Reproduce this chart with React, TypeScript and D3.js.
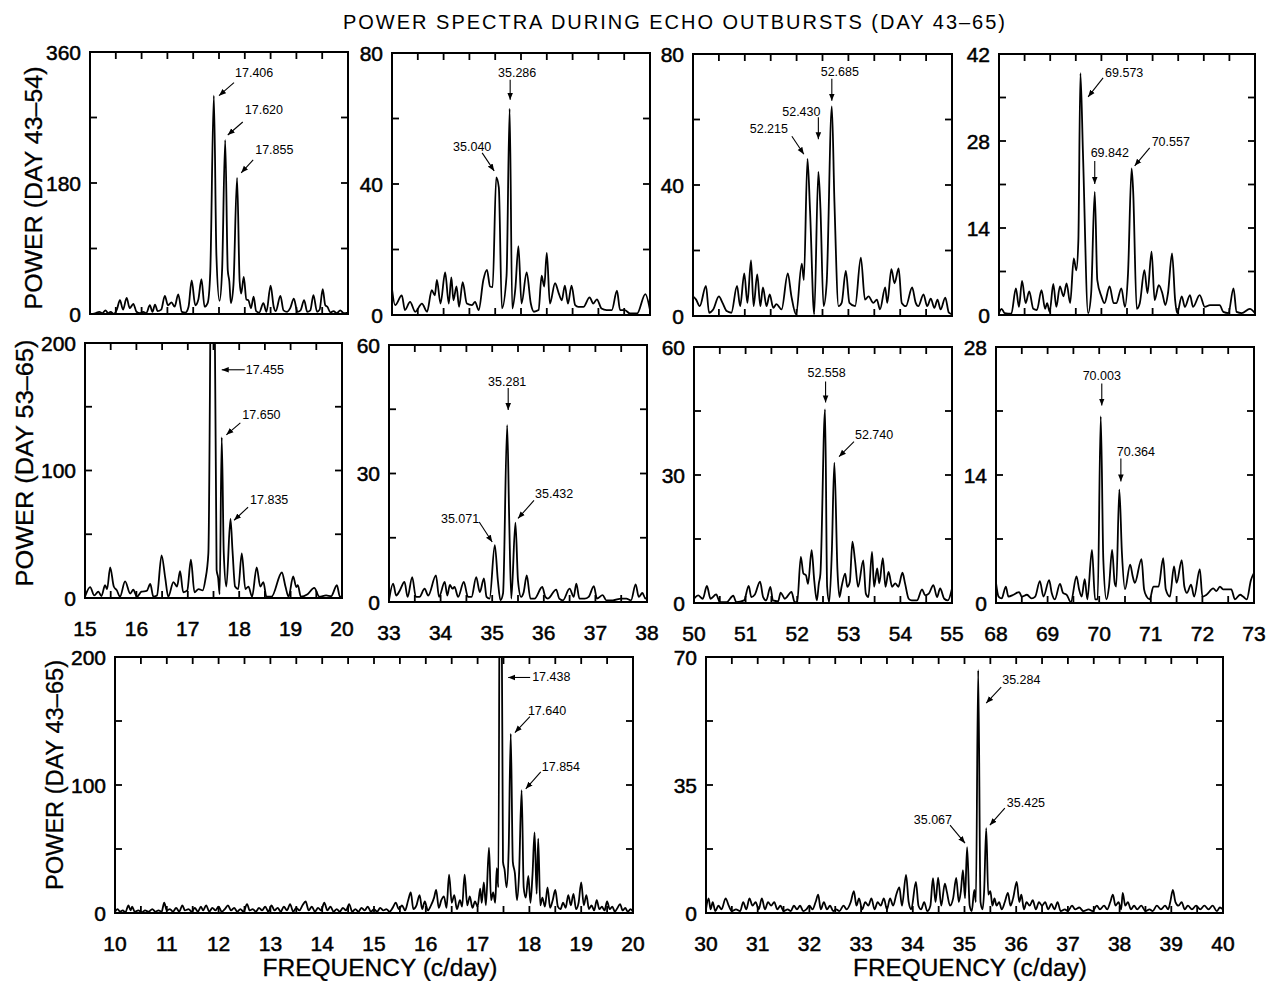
import React from 'react'
import * as d3 from 'd3'

type Pt = [number, number]

// power spectra as [frequency (c/day), power] vertices
const specA17: Pt[] = [
  [15.0, 0], [15.1, 1], [15.18, 3], [15.24, 1], [15.3, 5], [15.35, 1], [15.4, 3], [15.46, 0], [15.52, 6], [15.58, 19],
  [15.64, 6], [15.71, 22], [15.77, 8], [15.84, 14], [15.9, 3], [15.97, 1], [16.03, 3], [16.09, 1], [16.16, 12], [16.21, 3],
  [16.26, 13], [16.31, 4], [16.38, 6], [16.45, 25], [16.51, 12], [16.58, 16], [16.64, 10], [16.71, 27], [16.78, 3], [16.85, 2],
  [16.91, 10], [16.97, 46], [17.04, 12], [17.1, 20], [17.16, 48], [17.22, 10], [17.28, 15], [17.33, 56], [17.4, 300], [17.45, 80],
  [17.51, 18], [17.56, 60], [17.62, 239], [17.67, 60], [17.7, 45], [17.73, 15], [17.78, 40], [17.85, 187], [17.9, 45], [17.93, 28],
  [17.98, 51], [18.03, 20], [18.07, 19], [18.12, 8], [18.17, 24], [18.22, 4], [18.28, 2], [18.36, 15], [18.42, 3], [18.5, 39],
  [18.56, 10], [18.6, 4], [18.69, 25], [18.75, 5], [18.82, 3], [18.88, 8], [18.95, 21], [19.02, 3], [19.08, 5], [19.15, 19],
  [19.21, 3], [19.27, 5], [19.33, 26], [19.4, 3], [19.45, 6], [19.51, 34], [19.56, 12], [19.6, 10], [19.66, 2], [19.72, 4],
  [19.78, 1], [19.85, 5], [19.92, 1], [20.0, 2],
]

const specA35: Pt[] = [
  [33.0, 8], [33.06, 3], [33.19, 6], [33.25, 1.5], [33.35, 4], [33.45, 1], [33.58, 3.5], [33.68, 1], [33.77, 7.6], [33.83, 6],
  [33.87, 10.7], [33.94, 3.5], [34.03, 13], [34.1, 3.5], [34.15, 11.5], [34.19, 4.5], [34.25, 8.7], [34.3, 2.5], [34.37, 10], [34.45, 3.5],
  [34.55, 3], [34.61, 4], [34.68, 1.5], [34.77, 10.7], [34.84, 13.8], [34.9, 8.7], [34.95, 8.5], [35.02, 42], [35.07, 39], [35.13, 2],
  [35.22, 12], [35.28, 63], [35.33, 2], [35.39, 8], [35.45, 21], [35.51, 3.5], [35.61, 13], [35.69, 3.5], [35.75, 1], [35.84, 1.5],
  [35.9, 12], [35.95, 8.7], [36.0, 19], [36.06, 3.5], [36.16, 9.7], [36.23, 6.7], [36.29, 4.5], [36.35, 9], [36.41, 3.5], [36.48, 9],
  [36.55, 3], [36.61, 2.5], [36.71, 2.5], [36.83, 5.4], [36.9, 3.5], [36.97, 4.8], [37.06, 2], [37.16, 1.5], [37.26, 1.5], [37.36, 7.4],
  [37.42, 1.5], [37.51, 1.5], [37.61, 0.5], [37.75, 0.5], [37.91, 6.4], [38.0, 1.5],
]

const specA52: Pt[] = [
  [50.0, 6], [50.06, 5], [50.13, 3], [50.25, 9.2], [50.31, 1], [50.39, 2], [50.5, 6], [50.57, 4], [50.65, 1.5], [50.74, 1],
  [50.85, 9.2], [50.91, 3], [50.99, 13], [51.05, 4], [51.12, 17], [51.17, 3], [51.24, 12.7], [51.3, 3], [51.35, 8.7], [51.42, 3],
  [51.48, 6.6], [51.55, 2.5], [51.61, 3.6], [51.71, 2], [51.83, 13], [51.9, 6], [51.99, 0.5], [52.1, 16], [52.14, 11], [52.21, 48],
  [52.26, 32], [52.34, 0.5], [52.42, 44], [52.46, 33], [52.52, 3], [52.58, 10], [52.68, 64], [52.73, 35], [52.81, 3], [52.87, 4],
  [52.95, 13.8], [53.02, 4], [53.13, 3], [53.24, 17.8], [53.32, 5], [53.39, 6], [53.48, 4], [53.55, 5], [53.61, 2], [53.71, 8.7],
  [53.75, 4], [53.83, 14.3], [53.89, 10], [53.97, 14.5], [54.03, 4], [54.11, 3], [54.23, 8.7], [54.3, 4], [54.35, 3], [54.45, 6.6],
  [54.52, 3], [54.59, 5.3], [54.66, 2.5], [54.72, 5], [54.78, 2], [54.87, 5.6], [54.94, 1], [55.0, 0.5],
]

const specA70: Pt[] = [
  [68.0, 0.3], [68.05, 1], [68.11, 0.3], [68.24, 0.2], [68.33, 4.3], [68.39, 1.3], [68.45, 5.5], [68.52, 1.9], [68.59, 3.8], [68.67, 1],
  [68.74, 0.8], [68.83, 4], [68.9, 1], [68.94, 1.9], [68.99, 0.5], [69.06, 5], [69.12, 1.3], [69.19, 4.6], [69.26, 3], [69.32, 5.1],
  [69.39, 1.9], [69.46, 9.1], [69.51, 7.2], [69.55, 12], [69.59, 38.9], [69.64, 26], [69.74, 0.3], [69.8, 3.5], [69.87, 19.8], [69.92, 5.6],
  [70.0, 3], [70.06, 1.9], [70.16, 4.6], [70.24, 1.9], [70.29, 1.9], [70.39, 4.3], [70.46, 1.3], [70.52, 6.7], [70.59, 23.6], [70.62, 20],
  [70.69, 1], [70.75, 1.9], [70.84, 7.2], [70.9, 3.5], [70.98, 10.2], [71.04, 2.4], [71.12, 4.8], [71.19, 3.5], [71.25, 1.6], [71.3, 3.5],
  [71.38, 9.9], [71.44, 2.4], [71.48, 0.3], [71.57, 3], [71.63, 1.3], [71.73, 3.2], [71.79, 1.3], [71.92, 3.2], [72.02, 1.3], [72.12, 1.6],
  [72.22, 1.6], [72.31, 1.6], [72.38, 0.5], [72.48, 0.3], [72.58, 4.3], [72.64, 0.5], [72.74, 0.3], [72.9, 1], [73.0, 0.3],
]

const specB17: Pt[] = [
  [15.0, 1], [15.1, 8.6], [15.18, 2], [15.26, 5], [15.32, 1.5], [15.39, 10], [15.43, 7], [15.49, 24], [15.56, 9], [15.62, 6],
  [15.68, 1], [15.78, 13], [15.88, 3.5], [15.94, 6.5], [16.01, 1], [16.1, 5], [16.2, 5.5], [16.27, 11], [16.33, 1], [16.4, 2],
  [16.49, 33.5], [16.56, 16], [16.62, 1], [16.72, 12.5], [16.79, 9], [16.85, 21], [16.91, 4.5], [16.99, 6], [17.06, 30], [17.13, 4.5],
  [17.21, 7], [17.29, 6], [17.34, 14], [17.4, 35], [17.485, 430], [17.56, 22], [17.59, 16], [17.62, 3], [17.66, 126], [17.7, 35],
  [17.75, 9], [17.83, 62], [17.87, 37], [17.92, 9], [17.98, 7], [18.05, 35], [18.12, 7], [18.18, 9], [18.25, 1], [18.34, 24],
  [18.41, 9], [18.47, 12.5], [18.53, 1], [18.63, 1], [18.83, 20], [18.9, 9], [18.96, 1], [19.05, 17], [19.11, 8.6], [19.14, 10],
  [19.2, 1], [19.33, 3], [19.46, 8], [19.56, 1], [19.69, 2], [19.79, 1.5], [19.9, 10], [19.96, 1], [20.0, 1],
]

const specB35: Pt[] = [
  [33.0, 0.4], [33.08, 4.3], [33.14, 1.5], [33.21, 2.7], [33.3, 4.7], [33.36, 1.2], [33.45, 5.8], [33.52, 1.2], [33.59, 1.2], [33.69, 3.1],
  [33.76, 1.5], [33.91, 6.2], [33.97, 1.2], [34.08, 4.7], [34.13, 1.5], [34.18, 4], [34.23, 3.1], [34.27, 3.5], [34.34, 1.2], [34.45, 4.7],
  [34.53, 1.2], [34.6, 1.2], [34.69, 5.8], [34.76, 2.3], [34.84, 5.5], [34.89, 1.2], [34.95, 0.8], [35.05, 13.3], [35.11, 5], [35.16, 0.4],
  [35.21, 2], [35.29, 41.3], [35.33, 19], [35.37, 0.8], [35.45, 18.5], [35.5, 5], [35.56, 1.2], [35.61, 2.3], [35.67, 6.2], [35.74, 0.8],
  [35.82, 0.8], [35.97, 3.5], [36.03, 1.2], [36.08, 0.8], [36.24, 2.9], [36.3, 0.8], [36.37, 0.4], [36.5, 3.1], [36.58, 1.2], [36.63, 4.3],
  [36.69, 0.8], [36.79, 0.8], [36.87, 1.2], [36.97, 3.7], [37.03, 0.8], [37.14, 1.6], [37.21, 0.4], [37.34, 0.4], [37.5, 0.8], [37.6, 0.8],
  [37.69, 0.4], [37.78, 4.1], [37.84, 1.2], [37.91, 2.1], [37.97, 0.8], [38.0, 1],
]

const specB52: Pt[] = [
  [50.0, 1], [50.08, 1.8], [50.17, 1], [50.25, 4], [50.32, 1], [50.43, 2], [50.5, 0.2], [50.63, 0.2], [50.76, 1.7], [50.82, 0.2],
  [50.97, 0.6], [51.06, 4], [51.11, 1.4], [51.18, 2], [51.28, 5], [51.34, 1.4], [51.4, 0.6], [51.48, 3.8], [51.53, 0.6], [51.63, 0.4],
  [51.68, 2.4], [51.76, 1], [51.89, 2.6], [51.95, 0.2], [52.0, 0.2], [52.07, 10.8], [52.12, 6.9], [52.17, 6.5], [52.21, 4.5], [52.28, 12.4],
  [52.33, 5.3], [52.38, 0.6], [52.42, 4.6], [52.45, 6.9], [52.54, 45.4], [52.58, 3.8], [52.62, 0.2], [52.67, 11.6], [52.72, 32.9], [52.78, 7.7],
  [52.82, 1.4], [52.86, 3.8], [52.93, 6.9], [52.97, 3.8], [53.02, 5], [53.07, 14.4], [53.12, 10], [53.18, 3.8], [53.28, 10], [53.33, 2.2],
  [53.38, 1.4], [53.45, 12], [53.49, 3.8], [53.55, 8.1], [53.59, 4.6], [53.66, 10.5], [53.71, 3.8], [53.77, 7.3], [53.84, 3.8], [53.9, 4.6],
  [53.96, 3.8], [54.04, 7.1], [54.09, 4.6], [54.16, 1], [54.22, 0.6], [54.32, 0.6], [54.42, 3.2], [54.48, 1.8], [54.55, 2.2], [54.64, 4.2],
  [54.71, 1.4], [54.77, 3.4], [54.85, 1], [54.92, 0.6], [55.0, 3.4],
]

const specB70: Pt[] = [
  [68.0, 2.2], [68.05, 0.7], [68.11, 0.5], [68.19, 1.8], [68.24, 0.7], [68.34, 0.9], [68.45, 1.2], [68.5, 0.7], [68.6, 0.9], [68.69, 0.5],
  [68.76, 0.7], [68.85, 2.4], [68.92, 0.7], [69.03, 2.5], [69.08, 1.1], [69.14, 0.4], [69.24, 2.1], [69.3, 1.1], [69.37, 0.9], [69.45, 0.1],
  [69.56, 2.9], [69.61, 1.5], [69.66, 0.7], [69.72, 2.6], [69.77, 0.4], [69.86, 5.8], [69.92, 0.4], [69.97, 0.4], [70.03, 20.4], [70.08, 4.7],
  [70.14, 0.4], [70.19, 1.8], [70.25, 5.8], [70.3, 2.2], [70.33, 1.8], [70.39, 12.4], [70.44, 5.5], [70.5, 1.5], [70.6, 4.2], [70.65, 2.9],
  [70.69, 2.2], [70.82, 4.8], [70.87, 1.5], [70.92, 0.7], [70.98, 0.4], [71.05, 1.8], [71.15, 1.8], [71.24, 4.9], [71.29, 1.5], [71.37, 0.7],
  [71.45, 4], [71.5, 2.2], [71.6, 4.7], [71.65, 1.8], [71.7, 1.1], [71.78, 2], [71.84, 0.7], [71.95, 3.7], [72.0, 0.7], [72.08, 0.9],
  [72.21, 1.6], [72.27, 1.3], [72.34, 1.8], [72.4, 1.5], [72.47, 1.5], [72.56, 1.5], [72.63, 0.4], [72.73, 0.9], [72.79, 0.7], [72.86, 0.4],
  [72.94, 2.5], [73.0, 3.3],
]

const specC17: Pt[] = [
  [10.0, 1], [10.05, 3], [10.1, 1], [10.15, 2], [10.2, 0.5], [10.26, 6], [10.3, 2], [10.33, 5], [10.38, 1], [10.45, 2],
  [10.52, 0.5], [10.58, 2], [10.65, 1], [10.72, 3], [10.78, 1], [10.84, 2], [10.9, 1], [10.95, 8], [11.0, 2], [11.06, 3],
  [11.12, 1], [11.18, 4], [11.24, 1], [11.3, 6], [11.35, 2], [11.42, 3], [11.48, 1], [11.54, 4], [11.6, 1], [11.66, 5],
  [11.7, 2], [11.76, 6], [11.82, 1], [11.88, 4], [11.94, 2], [12.0, 5], [12.06, 1], [12.12, 3], [12.18, 6], [12.24, 2],
  [12.3, 4], [12.36, 1], [12.42, 3], [12.48, 1], [12.55, 7], [12.6, 2], [12.66, 3], [12.72, 1], [12.78, 4], [12.84, 2],
  [12.9, 5], [12.96, 1], [13.02, 6], [13.08, 2], [13.14, 4], [13.2, 1], [13.26, 5], [13.32, 2], [13.38, 7], [13.44, 1],
  [13.5, 4], [13.56, 2], [13.62, 6], [13.68, 9], [13.74, 2], [13.8, 5], [13.86, 1], [13.92, 4], [13.98, 2], [14.04, 8],
  [14.1, 2], [14.16, 5], [14.22, 1], [14.28, 3], [14.34, 1], [14.4, 4], [14.46, 2], [14.52, 7], [14.58, 1], [14.64, 3],
  [14.7, 1], [14.76, 4], [14.82, 2], [14.88, 5], [14.94, 1], [15.0, 3], [15.06, 1], [15.12, 4], [15.18, 2], [15.24, 3],
  [15.3, 1], [15.36, 4], [15.42, 8], [15.48, 3], [15.54, 6], [15.6, 2], [15.66, 10], [15.71, 16], [15.76, 3], [15.82, 6],
  [15.88, 14], [15.93, 3], [15.98, 9], [16.04, 2], [16.1, 6], [16.16, 12], [16.2, 18], [16.25, 4], [16.3, 10], [16.35, 13],
  [16.4, 4], [16.45, 30], [16.5, 8], [16.55, 14], [16.6, 3], [16.66, 10], [16.7, 5], [16.75, 30], [16.8, 6], [16.85, 13],
  [16.9, 4], [16.95, 9], [17.0, 5], [17.05, 19], [17.08, 8], [17.12, 24], [17.16, 6], [17.22, 51], [17.26, 10], [17.3, 16],
  [17.34, 8], [17.37, 35], [17.4, 20], [17.44, 420], [17.49, 40], [17.52, 34], [17.56, 20], [17.6, 50], [17.64, 140], [17.68, 40],
  [17.72, 31], [17.76, 10], [17.8, 30], [17.85, 96], [17.89, 20], [17.93, 12], [17.98, 29], [18.02, 8], [18.06, 30], [18.1, 63],
  [18.14, 15], [18.17, 58], [18.21, 6], [18.25, 12], [18.3, 5], [18.35, 20], [18.4, 4], [18.45, 10], [18.5, 18], [18.55, 5],
  [18.6, 3], [18.65, 8], [18.7, 4], [18.75, 14], [18.8, 6], [18.85, 15], [18.9, 3], [18.95, 8], [19.0, 24], [19.05, 6],
  [19.1, 14], [19.15, 3], [19.2, 6], [19.25, 2], [19.3, 10], [19.35, 3], [19.4, 5], [19.45, 2], [19.5, 9], [19.55, 3],
  [19.6, 5], [19.65, 1], [19.7, 4], [19.75, 7], [19.8, 2], [19.85, 4], [19.9, 1], [19.95, 3], [20.0, 1],
]

const specC35: Pt[] = [
  [30.0, 1], [30.05, 4], [30.09, 1], [30.13, 3], [30.18, 0.5], [30.24, 2], [30.3, 1], [30.38, 4], [30.44, 2], [30.5, 0.5],
  [30.58, 1], [30.66, 0.5], [30.72, 3], [30.78, 1], [30.84, 4], [30.9, 2], [30.96, 3], [31.02, 1], [31.08, 4], [31.14, 1],
  [31.2, 3], [31.26, 2], [31.32, 3], [31.38, 1], [31.44, 2], [31.5, 0.5], [31.58, 1], [31.64, 0.5], [31.7, 2], [31.76, 1],
  [31.82, 2], [31.88, 0.5], [31.94, 1], [32.0, 2], [32.06, 1], [32.12, 3], [32.17, 5], [32.22, 1], [32.28, 3], [32.34, 1],
  [32.4, 2], [32.46, 0.5], [32.52, 1], [32.58, 0.5], [32.66, 2], [32.72, 1], [32.8, 3], [32.86, 6], [32.91, 2], [32.96, 4],
  [33.02, 1], [33.08, 3], [33.14, 2], [33.2, 4], [33.26, 1], [33.32, 3], [33.38, 2], [33.44, 4], [33.5, 1], [33.56, 4],
  [33.62, 2], [33.68, 5], [33.74, 7], [33.79, 2], [33.87, 10.4], [33.92, 3], [33.97, 1], [34.06, 8.5], [34.11, 2], [34.16, 1],
  [34.22, 3], [34.28, 0.5], [34.34, 2], [34.39, 9.5], [34.44, 3], [34.49, 9.7], [34.55, 2], [34.62, 8], [34.66, 5.7], [34.72, 2],
  [34.78, 4], [34.84, 9.6], [34.89, 3], [34.93, 6], [34.97, 11.7], [35.01, 4], [35.05, 18], [35.1, 2], [35.14, 0.5], [35.19, 6.3],
  [35.22, 3], [35.265, 66.4], [35.31, 3], [35.35, 1], [35.38, 6], [35.42, 23.2], [35.46, 5], [35.5, 6], [35.54, 2], [35.58, 4],
  [35.62, 2], [35.67, 3], [35.72, 1], [35.78, 3], [35.84, 5.5], [35.89, 2], [35.94, 4], [36.01, 8.5], [36.06, 3], [36.1, 5],
  [36.15, 1], [36.2, 3], [36.26, 2], [36.32, 3.5], [36.38, 1], [36.44, 3], [36.5, 2], [36.56, 3], [36.62, 1], [36.68, 2.5],
  [36.74, 1], [36.8, 3], [36.86, 0.5], [36.94, 1], [37.0, 0.5], [37.08, 2], [37.14, 1], [37.22, 1.5], [37.3, 0.5], [37.4, 1],
  [37.48, 0.5], [37.56, 2], [37.62, 1], [37.7, 2], [37.76, 1], [37.82, 3], [37.87, 5], [37.92, 2], [37.98, 3], [38.03, 1],
  [38.06, 5.5], [38.11, 2], [38.16, 3], [38.22, 1], [38.28, 2], [38.34, 1], [38.42, 2], [38.5, 0.5], [38.58, 1], [38.64, 0.5],
  [38.72, 2], [38.8, 1], [38.88, 2], [38.94, 1], [38.98, 3], [39.03, 6.3], [39.08, 3], [39.14, 2], [39.2, 3], [39.26, 1],
  [39.32, 2], [39.4, 1], [39.48, 2], [39.56, 1], [39.64, 2], [39.72, 1], [39.8, 2], [39.88, 0.5], [39.94, 1.5], [40.0, 1],
]

// peak labels: tip in data units, tail offset (px), text offset from tail (px)
type Note = { label: string; f: number; p: number; dx: number; dy: number; tx: number; ty: number; anchor: string }

const notesA17: Note[] = [
  { label: '17.406', f: 17.5, p: 300, dx: 15, dy: -13, tx: 1, ty: -6, anchor: 'start' },
  { label: '17.620', f: 17.67, p: 246, dx: 15, dy: -13, tx: 2, ty: -8, anchor: 'start' },
  { label: '17.855', f: 17.93, p: 194, dx: 12, dy: -13, tx: 2, ty: -6, anchor: 'start' },
]
const notesA35: Note[] = [
  { label: '35.286', f: 35.29, p: 65.7, dx: 0, dy: -20, tx: 7, ty: -3, anchor: 'middle' },
  { label: '35.040', f: 34.98, p: 44, dx: -12, dy: -18, tx: -10, ty: -2, anchor: 'middle' },
]
const notesA52: Note[] = [
  { label: '52.685', f: 52.68, p: 65.7, dx: 0, dy: -22, tx: 8, ty: -3, anchor: 'middle' },
  { label: '52.430', f: 52.42, p: 54, dx: 0, dy: -22, tx: -17, ty: -1, anchor: 'middle' },
  { label: '52.215', f: 52.14, p: 49.4, dx: -12, dy: -18, tx: -23, ty: -3, anchor: 'middle' },
]
const notesA70: Note[] = [
  { label: '69.573', f: 69.74, p: 35.1, dx: 15, dy: -19, tx: 2, ty: -1, anchor: 'start' },
  { label: '69.842', f: 69.87, p: 21.1, dx: 0, dy: -23, tx: 15, ty: -4, anchor: 'middle' },
  { label: '70.557', f: 70.65, p: 24, dx: 15, dy: -18, tx: 2, ty: -2, anchor: 'start' },
]
const notesB17: Note[] = [
  { label: '17.455', f: 17.66, p: 179, dx: 23, dy: 0, tx: 1, ty: 4, anchor: 'start' },
  { label: '17.650', f: 17.75, p: 128, dx: 14, dy: -12, tx: 2, ty: -4, anchor: 'start' },
  { label: '17.835', f: 17.9, p: 61, dx: 14, dy: -13, tx: 2, ty: -3, anchor: 'start' },
]
const notesB35: Note[] = [
  { label: '35.281', f: 35.31, p: 44.8, dx: 0, dy: -22, tx: -1, ty: -2, anchor: 'middle' },
  { label: '35.071', f: 35.0, p: 14, dx: -13, dy: -20, tx: 0, ty: 1, anchor: 'end' },
  { label: '35.432', f: 35.5, p: 19.5, dx: 16, dy: -18, tx: 1, ty: -2, anchor: 'start' },
]
const notesB52: Note[] = [
  { label: '52.558', f: 52.55, p: 47, dx: 0, dy: -21, tx: 1, ty: -4, anchor: 'middle' },
  { label: '52.740', f: 52.81, p: 34.3, dx: 15, dy: -15, tx: 1, ty: -3, anchor: 'start' },
]
const notesB70: Note[] = [
  { label: '70.003', f: 70.05, p: 21.6, dx: 0, dy: -22, tx: 0, ty: -4, anchor: 'middle' },
  { label: '70.364', f: 70.42, p: 13.3, dx: 0, dy: -23, tx: 15, ty: -2, anchor: 'middle' },
]
const notesC17: Note[] = [
  { label: '17.438', f: 17.59, p: 184, dx: 22, dy: 0, tx: 2, ty: 4, anchor: 'start' },
  { label: '17.640', f: 17.72, p: 141, dx: 15, dy: -16, tx: -2, ty: -2, anchor: 'start' },
  { label: '17.854', f: 17.93, p: 97, dx: 15, dy: -17, tx: 1, ty: -1, anchor: 'start' },
]
const notesC35: Note[] = [
  { label: '35.284', f: 35.42, p: 57.4, dx: 15, dy: -16, tx: 1, ty: -3, anchor: 'start' },
  { label: '35.425', f: 35.49, p: 24, dx: 15, dy: -17, tx: 2, ty: -1, anchor: 'start' },
  { label: '35.067', f: 35.01, p: 19.1, dx: -15, dy: -18, tx: 2, ty: -1, anchor: 'end' },
]

type PanelCfg = {
  id: string; data: Pt[]; notes: Note[]; xd: [number, number]; ymax: number; ystep: number
  x: number; y: number; w: number; h: number; xlabels: boolean
}

const panels: PanelCfg[] = [
  { id: 'a1', data: specA17, notes: notesA17, xd: [15, 20], ymax: 360, ystep: 90, x: 90, y: 52, w: 258, h: 262, xlabels: false },
  { id: 'a2', data: specA35, notes: notesA35, xd: [33, 38], ymax: 80, ystep: 20, x: 392, y: 53, w: 258, h: 262, xlabels: false },
  { id: 'a3', data: specA52, notes: notesA52, xd: [50, 55], ymax: 80, ystep: 20, x: 693, y: 54, w: 259, h: 262, xlabels: false },
  { id: 'a4', data: specA70, notes: notesA70, xd: [68, 73], ymax: 42, ystep: 7, x: 999, y: 54, w: 256, h: 261, xlabels: false },
  { id: 'b1', data: specB17, notes: notesB17, xd: [15, 20], ymax: 200, ystep: 50, x: 85, y: 343, w: 257, h: 255, xlabels: true },
  { id: 'b2', data: specB35, notes: notesB35, xd: [33, 38], ymax: 60, ystep: 15, x: 389, y: 345, w: 258, h: 257, xlabels: true },
  { id: 'b3', data: specB52, notes: notesB52, xd: [50, 55], ymax: 60, ystep: 15, x: 694, y: 347, w: 258, h: 256, xlabels: true },
  { id: 'b4', data: specB70, notes: notesB70, xd: [68, 73], ymax: 28, ystep: 7, x: 996, y: 347, w: 258, h: 256, xlabels: true },
  { id: 'c1', data: specC17, notes: notesC17, xd: [10, 20], ymax: 200, ystep: 50, x: 115, y: 657, w: 518, h: 256, xlabels: true },
  { id: 'c2', data: specC35, notes: notesC35, xd: [30, 40], ymax: 70, ystep: 17.5, x: 706, y: 657, w: 517, h: 256, xlabels: true },
]

const FONT = '"Liberation Sans", Arial, Helvetica, sans-serif'
const TICK = 7

function Panel({ c }: { c: PanelCfg }) {
  const xs = d3.scaleLinear().domain(c.xd).range([0, c.w])
  const ys = d3.scaleLinear().domain([0, c.ymax]).range([c.h, 0])
  const line = d3.line<Pt>().x(d => xs(d[0])).y(d => ys(d[1])).curve(d3.curveMonotoneX)
  const xt = d3.range(c.xd[0], c.xd[1] + 1e-6, 0.5)
  const yt = d3.range(0, c.ymax + 1e-6, c.ystep)
  return (
    <g transform={`translate(${c.x},${c.y})`}>
      <defs>
        <clipPath id={`clip-${c.id}`}>
          <rect x={0} y={0} width={c.w} height={c.h} />
        </clipPath>
      </defs>
      <path d={line(c.data) || ''} fill="none" stroke="#000" strokeWidth={1.8} strokeLinejoin="round" clipPath={`url(#clip-${c.id})`} />
      <rect x={0} y={0} width={c.w} height={c.h} fill="none" stroke="#000" strokeWidth={2} />
      {xt.map(v => (
        <g key={`x${v}`}>
          <line x1={xs(v)} x2={xs(v)} y1={c.h} y2={c.h - TICK} stroke="#000" strokeWidth={1.8} />
          <line x1={xs(v)} x2={xs(v)} y1={0} y2={TICK} stroke="#000" strokeWidth={1.8} />
          {c.xlabels && Math.abs(v - Math.round(v)) < 1e-6 && (
            <text x={xs(v)} y={c.h + 30} textAnchor="middle" dominantBaseline="central" fontSize={21} fontFamily={FONT}
              stroke="#000" strokeWidth={0.5}>{v}</text>
          )}
        </g>
      ))}
      {yt.map((v, i) => (
        <g key={`y${v}`}>
          <line x1={0} x2={TICK} y1={ys(v)} y2={ys(v)} stroke="#000" strokeWidth={1.8} />
          <line x1={c.w} x2={c.w - TICK} y1={ys(v)} y2={ys(v)} stroke="#000" strokeWidth={1.8} />
          {i % 2 === 0 && (
            <text x={-9} y={ys(v)} textAnchor="end" dominantBaseline="central" fontSize={21} fontFamily={FONT}
              stroke="#000" strokeWidth={0.5}>{v}</text>
          )}
        </g>
      ))}
      {c.notes.map(n => {
        const tx = xs(n.f), ty = ys(n.p)
        const sx = tx + n.dx, sy = ty + n.dy
        return (
          <g key={n.label}>
            <line x1={sx} y1={sy} x2={tx} y2={ty} stroke="#000" strokeWidth={1.1} markerEnd="url(#arrowhead)" />
            <text x={sx + n.tx} y={sy + n.ty} textAnchor={n.anchor} fontSize={12.5} fontFamily={FONT}>{n.label}</text>
          </g>
        )
      })}
    </g>
  )
}

const yTitles = [
  { text: 'POWER  (DAY  43\u201354)', x: 34, y: 188, len: 243 },
  { text: 'POWER  (DAY  53\u201365)', x: 25, y: 463, len: 247 },
  { text: 'POWER  (DAY  43\u201365)', x: 55, y: 775, len: 230 },
]
const xTitles = [
  { text: 'FREQUENCY  (c/day)', x: 380, y: 968, len: 235 },
  { text: 'FREQUENCY  (c/day)', x: 970, y: 968, len: 234 },
]

export default function App() {
  return (
    <svg width={1274} height={981} style={{ position: 'absolute', left: 0, top: 0, background: '#fff' }}>
      <defs>
        <marker id="arrowhead" viewBox="0 0 10 10" refX={10} refY={5} markerWidth={7} markerHeight={7}
          markerUnits="userSpaceOnUse" orient="auto">
          <path d="M0,1 L10,5 L0,9 z" fill="#000" />
        </marker>
      </defs>
      <rect width={1274} height={981} fill="#fff" />
      <text x={674} y={22} textAnchor="middle" dominantBaseline="central" fontSize={20} fontFamily={FONT}
        textLength={662} lengthAdjust="spacing">POWER SPECTRA DURING ECHO OUTBURSTS (DAY 43{'\u2013'}65)</text>
      {panels.map(p => <Panel key={p.id} c={p} />)}
      {yTitles.map(t => (
        <text key={t.text + t.y} transform={`translate(${t.x},${t.y}) rotate(-90)`} textAnchor="middle" dominantBaseline="central"
          fontSize={23} fontFamily={FONT} stroke="#000" strokeWidth={0.3} textLength={t.len} lengthAdjust="spacingAndGlyphs">{t.text}</text>
      ))}
      {xTitles.map(t => (
        <text key={t.x} x={t.x} y={t.y} textAnchor="middle" dominantBaseline="central" fontSize={23} fontFamily={FONT}
          stroke="#000" strokeWidth={0.3} textLength={t.len} lengthAdjust="spacingAndGlyphs">{t.text}</text>
      ))}
    </svg>
  )
}
